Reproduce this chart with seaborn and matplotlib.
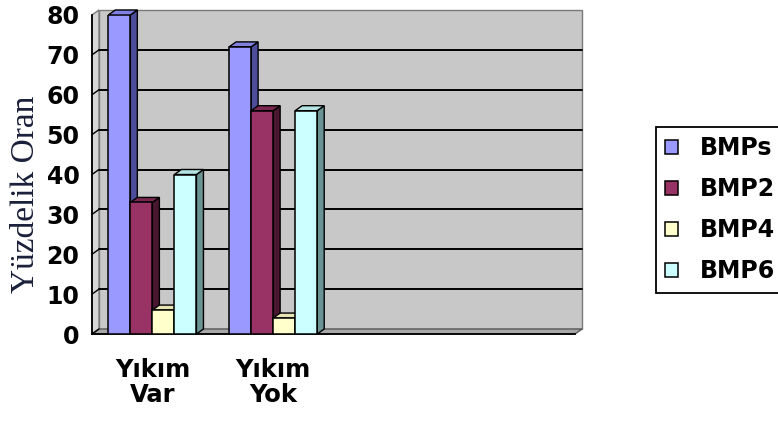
import matplotlib
matplotlib.use("Agg")
import matplotlib.pyplot as plt
from matplotlib.patches import Polygon
from matplotlib.lines import Line2D
import numpy as np
import pandas as pd
import seaborn as sns

# ---- data -------------------------------------------------------------
categories = ["Yıkım\nVar", "Yıkım\nYok"]
series = ["BMPs", "BMP2", "BMP4", "BMP6"]
bmps = [80, 72]
bmp2 = [33, 56]
bmp4 = [6, 4]
bmp6 = [40, 56]
y_ticks = [0, 10, 20, 30, 40, 50, 60, 70, 80]
y_label = "Yüzdelik Oran"

front_colors = ["#9999ff", "#993366", "#ffffcc", "#ccffff"]
side_colors = ["#4d4d99", "#4a1730", "#9a9a78", "#6a9494"]
top_colors = ["#8080e0", "#7a2850", "#e6e6b4", "#b4e4e4"]

df = pd.DataFrame({
    "category": categories * len(series),
    "series": sum([[s] * len(categories) for s in series], []),
    "value": bmps + bmp2 + bmp4 + bmp6,
})

# ---- style ------------------------------------------------------------
sns.set_style("white")
plt.rcParams["font.family"] = ["DejaVu Sans"]
plt.rcParams["text.color"] = "black"
plt.rcParams["axes.labelcolor"] = "black"
plt.rcParams["xtick.color"] = "black"
plt.rcParams["ytick.color"] = "black"

W_PX, H_PX = 778, 421
fig = plt.figure(figsize=(W_PX / 100, H_PX / 100), dpi=100)
ax = fig.add_axes([92 / W_PX, 87 / H_PX, 483 / W_PX, 319 / H_PX])
ax.set_facecolor("none")

sns.barplot(
    data=df, x="category", y="value", hue="series",
    order=categories, hue_order=series, palette=front_colors,
    width=0.73, saturation=1, edgecolor="black", linewidth=1.1,
    ax=ax,
)

ax.set_xlim(-0.5, 3.5)
ax.set_ylim(0, 80)
ax.set_yticks(y_ticks)

# depth of the pseudo-3D projection, in pixels (right, up)
DX, DY = 7.0, 5.0
to_px = ax.transData.transform
to_data = ax.transData.inverted().transform

(X0, Y0) = to_px((-0.5, 0))
(X1, Y1) = to_px((3.5, 80))


def add_poly(pts, **kw):
    poly = Polygon(to_data(np.array(pts)), closed=True, transform=ax.transData,
                   clip_on=False, **kw)
    ax.add_patch(poly)
    return poly


def add_line(p, q, **kw):
    xy = to_data(np.array([p, q]))
    ax.add_line(Line2D(xy[:, 0], xy[:, 1], transform=ax.transData,
                       clip_on=False, **kw))


# the bar rectangles, one container per series
color_of = {}
bars = []
for ci, c in enumerate(ax.containers):
    for p in c.patches:
        color_of[id(p)] = ci
        bars.append(p)
bars.sort(key=lambda p: p.get_x())

# walls and floor
add_poly([(X0 + DX, Y0 + DY), (X1 + DX, Y0 + DY), (X1 + DX, Y1 + DY), (X0 + DX, Y1 + DY)],
         facecolor="#c8c8c8", edgecolor="#7a7a7a", linewidth=1.0, zorder=0.5)
add_poly([(X0, Y0), (X0 + DX, Y0 + DY), (X0 + DX, Y1 + DY), (X0, Y1)],
         facecolor="#d6d6d6", edgecolor="#7a7a7a", linewidth=1.0, zorder=0.6)
add_poly([(X0, Y0), (X1, Y0), (X1 + DX, Y0 + DY), (X0 + DX, Y0 + DY)],
         facecolor="#a8a8a8", edgecolor="#5a5a5a", linewidth=1.0, zorder=0.7)

# gridlines on back wall and side wall
for v in y_ticks:
    yv = to_px((0, v))[1]
    if 0 < v < 80:
        add_line((X0 + DX, yv + DY), (X1 + DX, yv + DY), color="black", linewidth=1.4, zorder=0.8)
    if v < 80:
        add_line((X0, yv), (X0 + DX, yv + DY), color="black", linewidth=1.0, zorder=0.8)

# 3D faces for every bar, drawn left to right so nearer bars overlap sides
for i, p in enumerate(bars):
    ci = color_of[id(p)]
    x0, w, h = p.get_x(), p.get_width(), p.get_height()
    xa, ya = to_px((x0, 0))
    xb, yb = to_px((x0 + w, h))
    z = 3 + i * 0.01
    add_poly([(xb, ya), (xb, yb), (xb + DX, yb + DY), (xb + DX, ya + DY)],
             facecolor=side_colors[ci], edgecolor="black", linewidth=1.0, zorder=z)
    add_poly([(xa, yb), (xb, yb), (xb + DX, yb + DY), (xa + DX, yb + DY)],
             facecolor=top_colors[ci], edgecolor="black", linewidth=1.0, zorder=z + 0.002)
    p.set_zorder(z + 0.004)

# axes, ticks, labels
for s in ["top", "right"]:
    ax.spines[s].set_visible(False)
for s in ["left", "bottom"]:
    ax.spines[s].set_color("black")
    ax.spines[s].set_linewidth(1.3)
    ax.spines[s].set_zorder(2)

ax.set_xticks([0, 1])
ax.set_xticklabels(categories)
ax.set_xticks([-0.5, 0.5, 1.5, 2.5, 3.5], minor=True)
ax.tick_params(axis="x", which="major", length=0, pad=17)
ax.tick_params(axis="x", which="minor", length=6, width=1.3, color="black", direction="out")
ax.tick_params(axis="y", which="major", length=5, width=1.3, color="black", direction="out", pad=4)
for lbl in ax.get_xticklabels():
    lbl.set_fontsize(17.5)
    lbl.set_fontweight("bold")
    lbl.set_linespacing(1.05)
    lbl.set_color("black")
for lbl in ax.get_yticklabels():
    lbl.set_fontsize(17)
    lbl.set_fontweight("bold")
    lbl.set_color("black")

ax.set_xlabel("")
ax.set_ylabel(y_label, fontfamily="Liberation Serif", fontsize=24, color="#1a1f3a")
ax.yaxis.set_label_coords((41 - 92) / 483, (227 - 87) / 319)

sns.move_legend(
    ax, "upper left",
    bbox_to_anchor=(656 / W_PX, (H_PX - 127) / H_PX), bbox_transform=fig.transFigure,
    title="", frameon=True, fancybox=False, framealpha=1, edgecolor="black",
    prop={"weight": "bold", "size": 17, "family": "DejaVu Sans"},
    handlelength=0.55, handleheight=0.55, handletextpad=0.9,
    labelspacing=0.72, borderpad=0.4, borderaxespad=0,
)
leg = ax.get_legend()
leg.get_frame().set_linewidth(1.3)
for t in leg.get_texts():
    t.set_color("black")

fig.savefig("out.png", dpi=100, facecolor="white")
